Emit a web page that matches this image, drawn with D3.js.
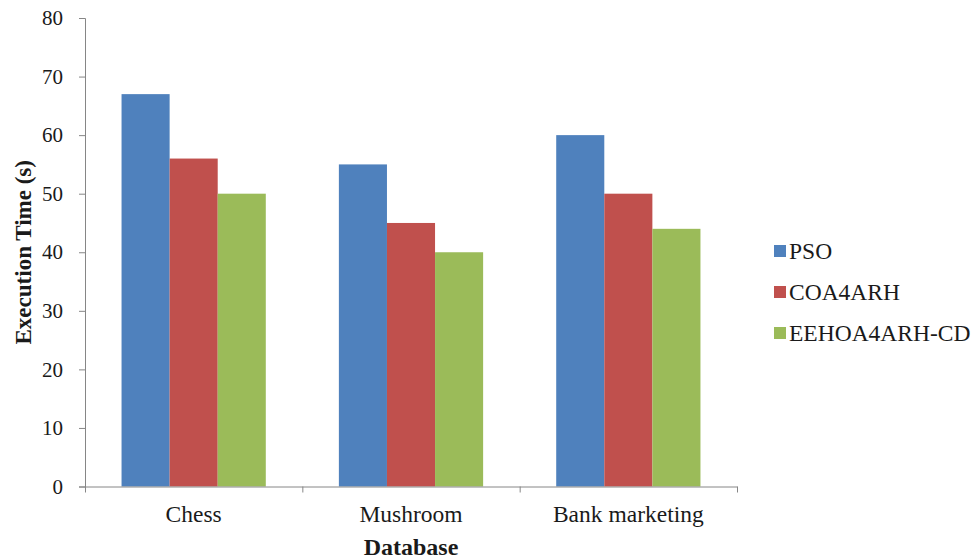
<!DOCTYPE html>
<html>
<head>
<meta charset="utf-8">
<script src="https://cdn.jsdelivr.net/npm/d3@7"></script>
<style>
  body { margin: 0; background: #fff; }
  svg { display: block; font-family: "Liberation Serif", "Times New Roman", serif; }
</style>
</head>
<body>
<div id="chart"></div>
<script>
var categories = ["Chess", "Mushroom", "Bank marketing"];
var seriesNames = ["PSO", "COA4ARH", "EEHOA4ARH-CD"];
var pso = [67, 55, 60];
var coa = [56, 45, 50];
var eehoa = [50, 40, 44];
var yTicks = [0, 10, 20, 30, 40, 50, 60, 70, 80];
var colors = ["#4F81BD", "#C0504D", "#9BBB59"];

var seriesValues = [pso, coa, eehoa];
var width = 976, height = 560;
// plot box (named so they don't clash with window.top)
var plotLeft = 85, plotRight = 737, plotTop = 18, plotBottom = 486.5;

var svg = d3.select("#chart").append("svg")
    .attr("width", width)
    .attr("height", height);

// scales
var x0 = d3.scaleBand()
    .domain(categories)
    .range([plotLeft, plotRight])
    .padding(0);

var x1 = d3.scaleBand()
    .domain(seriesNames)
    .range([0, x0.bandwidth()])
    .paddingInner(0)
    .paddingOuter(0.76);

var y = d3.scaleLinear()
    .domain([0, 80])
    .range([plotBottom, plotTop]);

// bars
var groups = svg.append("g").selectAll("g")
    .data(categories)
    .join("g")
    .attr("transform", function(d) { return "translate(" + x0(d) + ",0)"; });

groups.selectAll("rect")
    .data(function(c, ci) {
        return seriesNames.map(function(s, si) { return {s: s, v: seriesValues[si][ci], i: si}; });
    })
    .join("rect")
    .attr("x", function(d) { return x1(d.s); })
    .attr("y", function(d) { return y(d.v); })
    .attr("width", x1.bandwidth())
    .attr("height", function(d) { return y(0) - y(d.v); })
    .attr("fill", function(d) { return colors[d.i]; });

// y axis
var yAxis = svg.append("g")
    .attr("transform", "translate(" + plotLeft + ",0)")
    .call(d3.axisLeft(y).tickValues(yTicks).tickSize(6).tickSizeOuter(6).tickPadding(16));
yAxis.select(".domain").attr("stroke", "#868686");
yAxis.selectAll(".tick line").attr("stroke", "#868686");
yAxis.selectAll(".tick text")
    .attr("font-size", "21px")
    .attr("font-family", "Liberation Serif")
    .attr("fill", "#1a1a1a");

// x axis: ticks at category boundaries, labels centred in bands
var xEdge = d3.scaleLinear().domain([0, categories.length]).range([plotLeft, plotRight]);
var xAxis = svg.append("g")
    .attr("transform", "translate(0," + plotBottom + ")")
    .call(d3.axisBottom(xEdge).tickValues(d3.range(categories.length + 1)).tickFormat("").tickSize(6).tickSizeOuter(0));
xAxis.select(".domain").attr("stroke", "#868686");
xAxis.selectAll(".tick line").attr("stroke", "#868686");

svg.append("g").selectAll("text")
    .data(categories)
    .join("text")
    .attr("x", function(d) { return x0(d) + x0.bandwidth() / 2; })
    .attr("y", 522)
    .attr("text-anchor", "middle")
    .attr("font-size", "23.5px")
    .attr("fill", "#1a1a1a")
    .text(function(d) { return d; });

// axis titles
svg.append("text")
    .attr("x", (plotLeft + plotRight) / 2)
    .attr("y", 555)
    .attr("text-anchor", "middle")
    .attr("font-size", "24px")
    .attr("font-weight", "bold")
    .attr("fill", "#1a1a1a")
    .text("Database");

svg.append("text")
    .attr("transform", "translate(31," + (plotTop + plotBottom) / 2 + ") rotate(-90)")
    .attr("text-anchor", "middle")
    .attr("font-size", "23px")
    .attr("font-weight", "bold")
    .attr("fill", "#1a1a1a")
    .text("Execution Time (s)");

// legend
var legend = svg.append("g").selectAll("g")
    .data(seriesNames)
    .join("g")
    .attr("transform", function(d, i) { return "translate(774," + (245 + i * 41) + ")"; });

legend.append("rect")
    .attr("width", 12)
    .attr("height", 12)
    .attr("fill", function(d, i) { return colors[i]; });

legend.append("text")
    .attr("x", 15)
    .attr("y", 14)
    .attr("font-size", "23.5px")
    .attr("fill", "#1a1a1a")
    .text(function(d) { return d; });
</script>
</body>
</html>
